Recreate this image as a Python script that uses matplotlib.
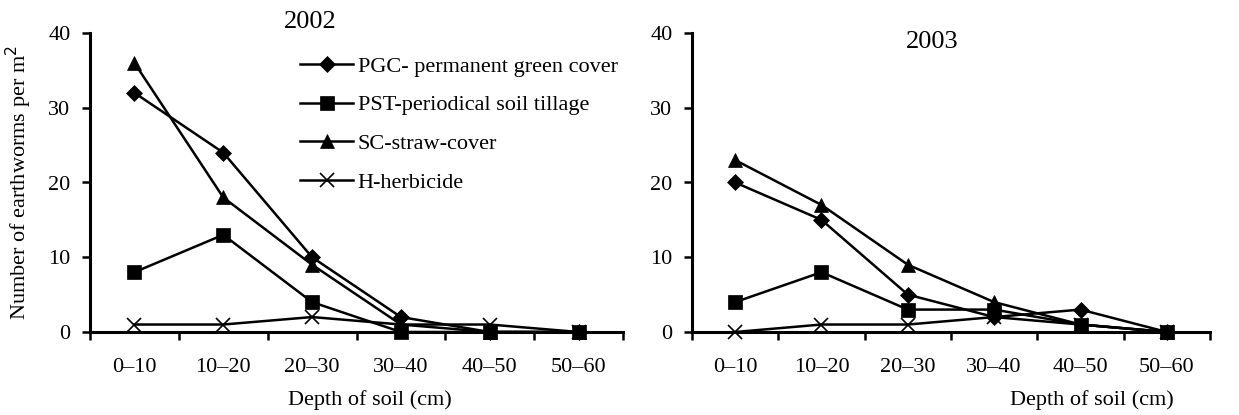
import matplotlib
matplotlib.use("Agg")
import matplotlib.pyplot as plt
import numpy as np

categories = ["0\u201310", "10\u201320", "20\u201330", "30\u201340", "40\u201350", "50\u201360"]
series_names = ["PGC- permanent green cover", "PST-periodical soil tillage", "SC-straw-cover", "H-herbicide"]

pgc_2002 = [32, 24, 10, 2, 0, 0]
pst_2002 = [8, 13, 4, 0, 0, 0]
sc_2002 = [36, 18, 9, 1, 0, 0]
h_2002 = [1, 1, 2, 1, 1, 0]

pgc_2003 = [20, 15, 5, 2, 3, 0]
pst_2003 = [4, 8, 3, 3, 1, 0]
sc_2003 = [23, 17, 9, 4, 1, 0]
h_2003 = [0, 1, 1, 2, 1, 0]

yticks = [0, 10, 20, 30, 40]

plt.rcParams['font.family'] = ['Liberation Serif', 'DejaVu Serif']
FS = 16

fig = plt.figure(figsize=(12.39, 4.15), dpi=100)
ax1 = fig.add_axes([90/1239, 1-332/415, 533/1239, 299/415])
ax2 = fig.add_axes([692/1239, 1-332/415, 518/1239, 299/415])

markers = ['D', 's', '^', 'x']
msizes = [8.5, 10, 10, 10]

def draw(ax, data):
    x = np.arange(len(categories))
    for vals, m, ms, name in zip(data, markers, msizes, series_names):
        ax.plot(x, vals, color='black', lw=1.8, marker=m, ms=ms,
                mfc='black', mec='black', mew=1.2 if m == 'x' else 0.5,
                label=name, clip_on=False, zorder=3)
    ax.set_xlim(-0.5, len(categories) - 0.5)
    ax.set_ylim(0, 40)
    ax.set_yticks(yticks)
    ax.set_xticks(np.arange(len(categories) + 1) - 0.5)
    ax.set_xticklabels([])
    ax.set_xticks(x, minor=True)
    ax.set_xticklabels(categories, minor=True, fontsize=FS)
    ax.tick_params(axis='x', which='major', direction='out', length=6, width=1.8)
    ax.tick_params(axis='x', which='minor', length=0, pad=19)
    ax.tick_params(axis='y', direction='out', length=6, width=1.8, labelsize=FS, pad=8)
    for s in ['top', 'right']:
        ax.spines[s].set_visible(False)
    for s in ['left', 'bottom']:
        ax.spines[s].set_linewidth(2.2)

draw(ax1, [pgc_2002, pst_2002, sc_2002, h_2002])
draw(ax2, [pgc_2003, pst_2003, sc_2003, h_2003])

ax1.set_ylabel("Number of earthworms per m$^2$", fontsize=FS, labelpad=10)

fig.text(310/1239, 1-22/415, "2002", fontsize=19, ha='center', va='center')
fig.text(932/1239, 1-42/415, "2003", fontsize=19, ha='center', va='center')

fig.text(370/1239, 1-400/415, "Depth of soil (cm)", fontsize=FS, ha='center', va='center')
fig.text(1092/1239, 1-400/415, "Depth of soil (cm)", fontsize=FS, ha='center', va='center')

ax1.legend(loc='upper left', bbox_to_anchor=(300/1239, 1-56/415), bbox_transform=fig.transFigure,
           frameon=False, fontsize=FS, handlelength=2.4, handletextpad=0.2,
           labelspacing=0.82, borderpad=0, borderaxespad=0)

fig.savefig("out.png", dpi=100)
